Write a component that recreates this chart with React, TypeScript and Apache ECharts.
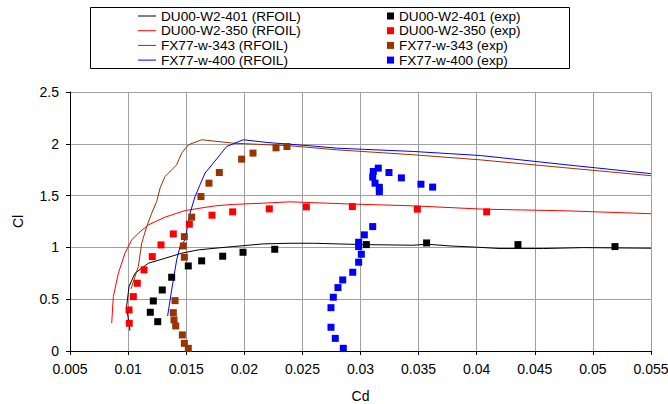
import React, { useEffect, useRef } from "react";
import * as echarts from "echarts";

const lineNames = [
  "DU00-W2-401 (RFOIL)",
  "DU00-W2-350 (RFOIL)",
  "FX77-w-343 (RFOIL)",
  "FX77-w-400 (RFOIL)",
];
const expNames = [
  "DU00-W2-401 (exp)",
  "DU00-W2-350 (exp)",
  "FX77-w-343 (exp)",
  "FX77-w-400 (exp)",
];
const seriesColors = ["#000000", "#ff0000", "#993300", "#0000ff"];

const xTicks = { min: 0.005, max: 0.055, interval: 0.005 };
const yTicks = { min: 0, max: 2.5, interval: 0.5 };

// [Cd, Cl]
const du401Rfoil = [
  [0.01016, 0.196], [0.00987, 0.428], [0.01008, 0.621], [0.01059, 0.75],
  [0.01174, 0.847], [0.01318, 0.895], [0.01461, 0.944], [0.01604, 0.976],
  [0.01748, 0.992], [0.01905, 1.008], [0.02163, 1.034], [0.02393, 1.04],
  [0.02594, 1.04], [0.03024, 1.027], [0.03454, 1.021], [0.03569, 1.031],
  [0.0377, 1.014], [0.04, 1.002], [0.042, 0.989], [0.04573, 0.989],
  [0.04917, 0.998], [0.055, 0.992],
];
const du350Rfoil = [
  [0.00859, 0.268], [0.00873, 0.525], [0.00916, 0.75], [0.00973, 0.944],
  [0.01031, 1.072], [0.01088, 1.137], [0.01174, 1.217], [0.01318, 1.292],
  [0.0149, 1.356], [0.01748, 1.401], [0.01905, 1.415], [0.02164, 1.427],
  [0.02393, 1.44], [0.0288, 1.42], [0.03454, 1.401], [0.04057, 1.369],
  [0.04775, 1.353], [0.055, 1.325],
];
const fx343Rfoil = [
  [0.01025, 0.6], [0.01088, 0.815], [0.01117, 1.04], [0.0116, 1.201],
  [0.01203, 1.33], [0.01246, 1.443], [0.01275, 1.572], [0.01318, 1.684],
  [0.01375, 1.749], [0.01418, 1.797], [0.01461, 1.91], [0.01518, 1.99],
  [0.01633, 2.039], [0.01905, 2.006], [0.02393, 1.981], [0.02795, 1.942],
  [0.03454, 1.894], [0.0403, 1.845], [0.0475, 1.77], [0.055, 1.692],
];
const fx400Rfoil = [
  [0.0134, 0.338], [0.01375, 0.589], [0.01418, 0.879], [0.01447, 1.008],
  [0.0149, 1.072], [0.01533, 1.33], [0.01576, 1.491], [0.01619, 1.604],
  [0.01662, 1.717], [0.01733, 1.813], [0.01848, 1.974], [0.01991, 2.039],
  [0.02193, 2.013], [0.02565, 1.981], [0.02795, 1.958], [0.03454, 1.926],
  [0.0403, 1.887], [0.0475, 1.8], [0.055, 1.712],
];

const du401Exp = [
  [0.01255, 0.283], [0.01191, 0.374], [0.01217, 0.483], [0.01294, 0.589],
  [0.01375, 0.712], [0.01518, 0.821], [0.01633, 0.87], [0.01814, 0.915],
  [0.01989, 0.953], [0.02262, 0.982], [0.0305, 1.027], [0.03569, 1.043],
  [0.04355, 1.027], [0.0519, 1.008],
];
const du350Exp = [
  [0.0101, 0.268], [0.01008, 0.396], [0.01045, 0.525], [0.01079, 0.654],
  [0.01137, 0.783], [0.01208, 0.911], [0.01283, 1.024], [0.01389, 1.13],
  [0.01527, 1.224], [0.01722, 1.311], [0.019, 1.343], [0.02215, 1.372],
  [0.02534, 1.391], [0.0293, 1.394], [0.03489, 1.369], [0.04086, 1.343],
];
const fx343Exp = [
  [0.01518, 0.026], [0.01484, 0.074], [0.01467, 0.155], [0.0141, 0.242],
  [0.01395, 0.3], [0.01389, 0.37], [0.01404, 0.486], [0.01484, 0.905],
  [0.01475, 1.014], [0.01484, 1.104], [0.01547, 1.292], [0.01627, 1.491],
  [0.01696, 1.62], [0.01785, 1.723], [0.01977, 1.852], [0.02075, 1.91],
  [0.02273, 1.961], [0.02367, 1.974],
];
const fx400Exp = [
  [0.02852, 0.026], [0.02783, 0.122], [0.02746, 0.229], [0.02746, 0.418],
  [0.02766, 0.519], [0.02806, 0.612], [0.02847, 0.686], [0.02933, 0.76],
  [0.02984, 0.857], [0.03007, 0.934], [0.02984, 1.008], [0.02984, 1.05],
  [0.03033, 1.121], [0.03105, 1.201], [0.03162, 1.539], [0.03162, 1.58],
  [0.03125, 1.62], [0.03105, 1.678], [0.0311, 1.733], [0.03153, 1.765],
  [0.03245, 1.723], [0.03352, 1.671], [0.0352, 1.61], [0.03621, 1.582],
];

const lineData = [du401Rfoil, du350Rfoil, fx343Rfoil, fx400Rfoil];
const expData = [du401Exp, du350Exp, fx343Exp, fx400Exp];

const FONT = "'Liberation Sans', Arial, sans-serif";

export default function App() {
  const ref = useRef<HTMLDivElement>(null);
  useEffect(() => {
    if (!ref.current) return;
    const chart = echarts.init(ref.current, undefined, { renderer: "svg" });
    const series: any[] = [];
    lineData.forEach((d, i) => {
      series.push({
        name: lineNames[i],
        type: "line",
        data: d,
        symbol: "none",
        lineStyle: { color: seriesColors[i], width: 1 },
        itemStyle: { color: seriesColors[i] },
        z: 2,
      });
    });
    expData.forEach((d, i) => {
      series.push({
        name: expNames[i],
        type: "scatter",
        data: d,
        symbol: "rect",
        symbolSize: 7,
        itemStyle: { color: seriesColors[i], opacity: 1 },
        z: 3,
      });
    });
    chart.setOption({
      animation: false,
      textStyle: { fontFamily: FONT },
      grid: {
        left: 70,
        right: 17,
        top: 92,
        bottom: 53,
        containLabel: false,
        outerBoundsMode: "none",
      },
      legend: [
        {
          data: lineNames.map((n) => ({ name: n, icon: "rect" })),
          orient: "vertical",
          left: 133,
          top: 4,
          itemWidth: 18,
          itemHeight: 1,
          itemGap: 0.7,
          textStyle: { fontSize: 13.6, lineHeight: 14, color: "#000", fontFamily: FONT },
          selectedMode: false,
        },
        {
          data: expNames.map((n) => ({ name: n, icon: "rect" })),
          orient: "vertical",
          left: 382,
          top: 4,
          itemWidth: 7,
          itemHeight: 7,
          itemGap: 0.7,
          itemStyle: { borderWidth: 0 },
          textStyle: { fontSize: 13.6, lineHeight: 14, color: "#000", fontFamily: FONT },
          selectedMode: false,
        },
      ],
      graphic: [
        {
          type: "rect",
          shape: { x: 90.5, y: 7.5, width: 479, height: 61 },
          style: { fill: "none", stroke: "#000", lineWidth: 1 },
          z: -1,
        },
      ],
      xAxis: {
        type: "value",
        min: xTicks.min,
        max: xTicks.max,
        interval: xTicks.interval,
        name: "Cd",
        nameLocation: "middle",
        nameGap: 38,
        nameTextStyle: { fontSize: 14, color: "#000", fontFamily: FONT },
        axisLine: { show: true, onZero: false, lineStyle: { color: "#000", width: 1 } },
        axisTick: { show: true, inside: false, length: 4, lineStyle: { color: "#000" } },
        axisLabel: {
          fontSize: 14,
          color: "#000",
          margin: 11,
          fontFamily: FONT,
          formatter: (v: number) => String(Math.round(v * 1000) / 1000),
        },
        splitLine: { show: true, lineStyle: { color: "#a0a0a0", width: 1 } },
      },
      yAxis: {
        type: "value",
        min: yTicks.min,
        max: yTicks.max,
        interval: yTicks.interval,
        name: "Cl",
        nameLocation: "middle",
        nameGap: 45,
        nameRotate: 90,
        nameTextStyle: { fontSize: 14, color: "#000", fontFamily: FONT },
        axisLine: { show: true, onZero: false, lineStyle: { color: "#000", width: 1 } },
        axisTick: { show: true, inside: false, length: 4, lineStyle: { color: "#000" } },
        axisLabel: {
          fontSize: 14,
          color: "#000",
          margin: 11,
          fontFamily: FONT,
          formatter: (v: number) => String(Math.round(v * 10) / 10),
        },
        splitLine: { show: true, lineStyle: { color: "#a0a0a0", width: 1 } },
      },
      series,
    });
    return () => chart.dispose();
  }, []);
  return (
    <div
      ref={ref}
      style={{ position: "fixed", left: 0, top: 0, width: 668, height: 404, background: "#fff" }}
    />
  );
}
